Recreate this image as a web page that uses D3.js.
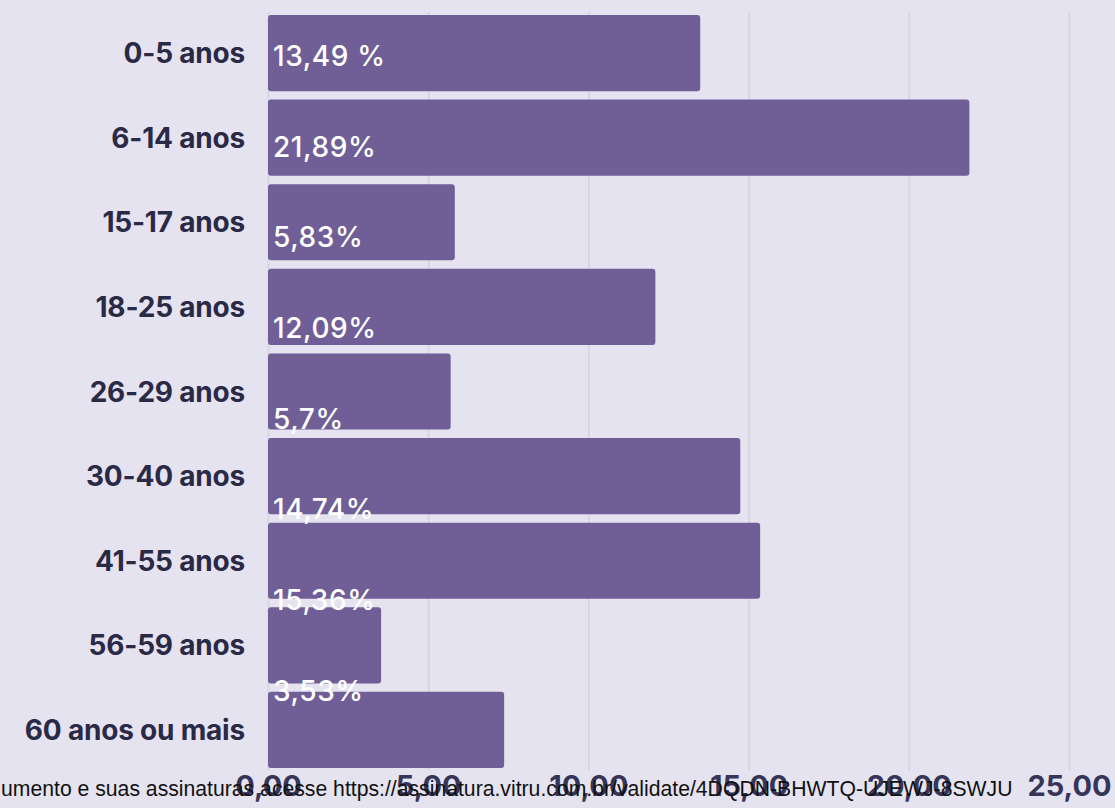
<!DOCTYPE html>
<html>
<head>
<meta charset="utf-8">
<script src="https://cdn.jsdelivr.net/npm/d3@7"></script>
<style>
  html, body { margin: 0; padding: 0; background: #e5e3ef; }
  svg { display: block; }
</style>
</head>
<body>
<script>
const categories = ["0-5 anos","6-14 anos","15-17 anos","18-25 anos","26-29 anos","30-40 anos","41-55 anos","56-59 anos","60 anos ou mais"];
const values = [13.49, 21.89, 5.83, 12.09, 5.7, 14.74, 15.36, 3.53, 7.37];
const valueLabels = ["13,49 %","21,89%","5,83%","12,09%","5,7%","14,74%","15,36%","3,53%"];
const xTicks = [0, 5, 10, 15, 20, 25];
const watermark = "umento e suas assinaturas acesse https://assinatura.vitru.com.br/validate/4DQDN-BHWTQ-UJEWJ-8SWJU";

const W = 1115, H = 808;
const svg = d3.select("body").append("svg").attr("width", W).attr("height", H);
svg.append("rect").attr("width", W).attr("height", H).attr("fill", "#e5e3ef");

const x = d3.scaleLinear().domain([0, 25]).range([268, 1069]);
const y = d3.scaleBand().domain(categories).range([15, 768]).paddingInner(0.1).paddingOuter(0);
const yLab = d3.scalePoint().domain(categories.slice(0, valueLabels.length)).range([56, 691]);

// grid + x axis
const axis = d3.axisBottom(x).tickValues(xTicks)
  .tickFormat(d => d.toFixed(2).replace(".", ","))
  .tickSize(-758).tickPadding(5);
const gx = svg.append("g").attr("transform", "translate(0,770)").call(axis);
gx.select(".domain").remove();
gx.selectAll(".tick line").attr("stroke", "#d8d5e2").attr("stroke-width", 2);
gx.selectAll(".tick text")
  .attr("fill", "#363559")
  .style("font-family", "Inter, 'Liberation Sans', sans-serif")
  .style("font-weight", 700)
  .style("font-size", "29px");

// bars
svg.append("g").selectAll("rect").data(categories).join("rect")
  .attr("x", x(0))
  .attr("y", d => y(d))
  .attr("width", (d, i) => x(values[i]) - x(0))
  .attr("height", y.bandwidth())
  .attr("rx", 3)
  .attr("fill", "#705f97");

// value labels
svg.append("g").selectAll("text").data(valueLabels).join("text")
  .attr("x", x(0) + 5)
  .attr("y", (d, i) => yLab(categories[i]))
  .attr("dy", "0.35em")
  .attr("fill", "#ffffff")
  .style("font-family", "Inter, 'Liberation Sans', sans-serif")
  .style("font-weight", 500)
  .style("font-size", "28px")
  .style("letter-spacing", "0.6px")
  .text(d => d);

// category labels
svg.append("g").selectAll("text").data(categories).join("text")
  .attr("x", 245)
  .attr("y", d => y(d) + y.bandwidth() / 2)
  .attr("dy", "0.36em")
  .attr("text-anchor", "end")
  .attr("fill", "#2b2a46")
  .style("font-family", "Inter, 'Liberation Sans', sans-serif")
  .style("font-weight", 700)
  .style("font-size", "28px")
  .style("letter-spacing", "-0.2px")
  .text(d => d);

// watermark overlay
svg.append("text")
  .attr("x", 1)
  .attr("y", 796)
  .attr("fill", "#111111")
  .style("font-family", "'Liberation Sans', Arial, sans-serif")
  .style("font-size", "21.2px")
  .text(watermark);
</script>
</body>
</html>
